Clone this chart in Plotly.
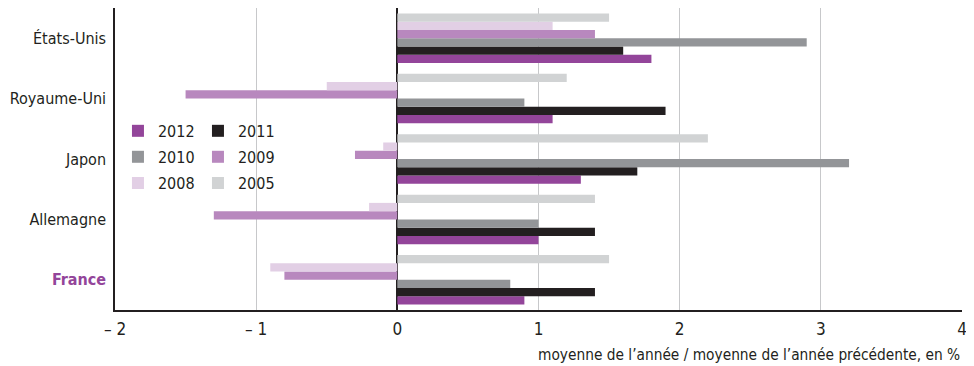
import plotly.graph_objects as go

countries = ["États-Unis", "Royaume-Uni", "Japon", "Allemagne", "France"]
country_labels = ["États-Unis", "Royaume-Uni", "Japon", "Allemagne",
                  "<b><span style='color:#93459A'>France</span></b>"]

years = ["2012", "2011", "2010", "2009", "2008", "2005"]
v2012 = [1.8, 1.1, 1.3, 1.0, 0.9]
v2011 = [1.6, 1.9, 1.7, 1.4, 1.4]
v2010 = [2.9, 0.9, 3.2, 1.0, 0.8]
v2009 = [1.4, -1.5, -0.3, -1.3, -0.8]
v2008 = [1.1, -0.5, -0.1, -0.2, -0.9]
v2005 = [1.5, 1.2, 2.2, 1.4, 1.5]
series = [v2012, v2011, v2010, v2009, v2008, v2005]
colors = ["#93459A", "#231F20", "#939598", "#B888BE", "#E2CFE5", "#D1D3D4"]
legends = ["legend", "legend", "legend2", "legend2", "legend3", "legend3"]

xtick_vals = [-2, -1, 0, 1, 2, 3, 4]
xtick_text = ["– 2", "– 1", "0", "1", "2", "3", "4"]

FONT = "DejaVu Sans Condensed, Liberation Sans Narrow, sans-serif"
DARK = "#231F20"

fig = go.Figure()
for name, vals, col, lg in zip(years, series, colors, legends):
    fig.add_trace(go.Bar(
        y=countries, x=vals, name=name, orientation="h",
        marker=dict(color=col, line=dict(width=0)),
        legend=lg,
    ))

leg_common = dict(orientation="h", x=0.0035, xanchor="left", yanchor="middle",
                  font=dict(family=FONT, size=16, color=DARK),
                  bgcolor="rgba(0,0,0,0)", entrywidth=35, entrywidthmode="pixels",
                  itemwidth=30, traceorder="normal", tracegroupgap=0)

fig.update_layout(
    width=966, height=358,
    margin=dict(l=107, r=12, t=0, b=56, autoexpand=False),
    paper_bgcolor="white", plot_bgcolor="white",
    barmode="group", bargap=0.18, bargroupgap=0,
    font=dict(family=FONT, size=16, color=DARK),
    legend=dict(leg_common, y=0.593),
    legend2=dict(leg_common, y=0.507),
    legend3=dict(leg_common, y=0.42),
    xaxis=dict(
        range=[-2, 4.0001], tickvals=xtick_vals, ticktext=xtick_text,
        showgrid=True, gridcolor="#C7C8CA", gridwidth=1,
        zeroline=True, zerolinecolor=DARK, zerolinewidth=1.5,
        showline=True, linecolor=DARK, linewidth=2,
        ticks="", ticklabelstandoff=3,
        tickfont=dict(family=FONT, size=17, color=DARK),
        automargin=False, fixedrange=True,
    ),
    yaxis=dict(
        type="category", categoryorder="array", categoryarray=countries[::-1],
        tickvals=countries, ticktext=country_labels,
        showline=True, linecolor=DARK, linewidth=1.5,
        showgrid=False, ticks="", ticklabelstandoff=4,
        tickfont=dict(family=FONT, size=16, color=DARK),
        automargin=False,
    ),
    annotations=[dict(
        text="moyenne de l’année / moyenne de l’année précédente, en %",
        xref="paper", yref="paper", x=1, y=-0.149, xanchor="right", yanchor="middle",
        showarrow=False, font=dict(family=FONT, size=15.3, color=DARK),
    )],
)

fig.write_html("out.html")
